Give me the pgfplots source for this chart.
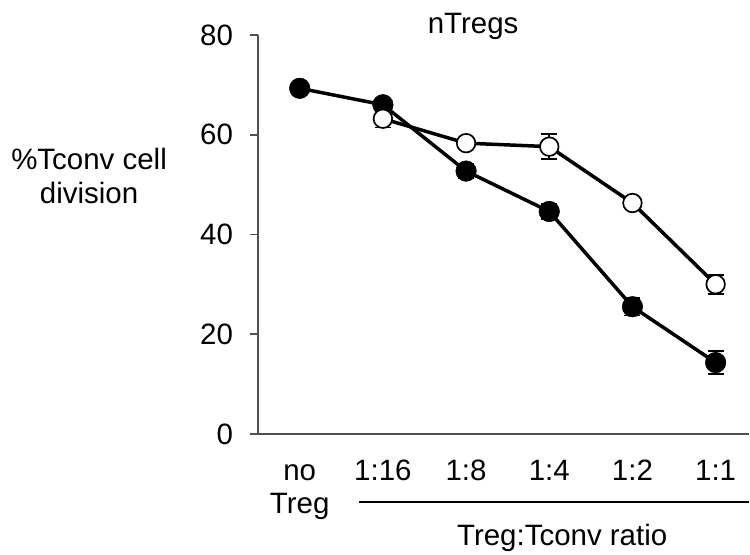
\documentclass[border=0pt]{standalone}
\usepackage{pgfplots}
\pgfplotsset{compat=1.18}
\usepackage{fontspec}
\setmainfont{Liberation Sans}
\definecolor{axgray}{HTML}{505050}
\begin{document}
\begin{tikzpicture}
\begin{axis}[
  scale only axis,
  width=491.5pt, height=399.5pt,
  xmin=-0.5, xmax=5.4,
  ymin=0, ymax=80,
  axis x line=bottom, axis y line=left,
  axis line style={-, draw=axgray, line width=1.8pt},
  ytick={0,20,40,60,80},
  tick align=outside,
  ytick pos=left,
  major tick length=8pt,
  y tick style={draw=axgray, line width=1.8pt},
  xtick={0,1,2,3,4,5},
  x tick style={draw=none},
  xticklabels={{\strut no\\Treg},{\strut 1:16},{\strut 1:8},{\strut 1:4},{\strut 1:2},{\strut 1:1}},
  xticklabel style={font=\fontsize{29.5}{33}\selectfont, align=center, anchor=north, inner sep=0pt, yshift=-15pt},
  yticklabel style={font=\fontsize{29.5}{33}\selectfont, anchor=east, inner sep=0pt, xshift=-17pt},
  /pgf/number format/assume math mode=true,
  clip=false,
]
\addplot[black, line width=3.5pt, mark=*, mark size=10.3pt, mark options={fill=black, draw=black, line width=0.5pt},
  error bars/.cd, y dir=both, y explicit,
  error bar style={line width=1.6pt, black},
  error mark options={rotate=90, mark size=8pt, line width=1.6pt}]
  coordinates {
  (0,69.3) +- (0,0.6)
  (1,66.0) +- (0,0.8)
  (2,52.7) +- (0,1.5)
  (3,44.6) +- (0,1.5)
  (4,25.5) +- (0,1.8)
  (5,14.3) +- (0,2.3)
  };
\addplot[black, line width=3.5pt, mark=*, mark size=9.3pt, mark options={fill=white, draw=black, line width=1.7pt},
  error bars/.cd, y dir=both, y explicit,
  error bar style={line width=1.6pt, black},
  error mark options={rotate=90, mark size=8pt, line width=1.6pt}]
  coordinates {
  (1,63.2) +- (0,1.8)
  (2,58.3) +- (0,0.5)
  (3,57.6) +- (0,2.5)
  (4,46.3) +- (0,0.7)
  (5,30.0) +- (0,1.9)
  };
\end{axis}
\node[anchor=base, font=\fontsize{29.5}{33}\selectfont, inner sep=0pt] at (215.3pt,401.2pt) {nTregs};
\node[anchor=base, font=\fontsize{29.5}{33}\selectfont, inner sep=0pt] at (-169.3pt,265.2pt) {\%Tconv cell};
\node[anchor=base, font=\fontsize{29.5}{33}\selectfont, inner sep=0pt] at (-169.3pt,231.2pt) {division};
\draw[black, line width=2.2pt] (101.5pt,-68.2pt) -- (491.5pt,-68.2pt);
\node[anchor=base, font=\fontsize{29.5}{33}\selectfont, inner sep=0pt] at (304.5pt,-111.5pt) {Treg:Tconv ratio};
\useasboundingbox (-258.5pt,-120.5pt) rectangle (491.5pt,434.5pt);
\end{tikzpicture}
\end{document}
